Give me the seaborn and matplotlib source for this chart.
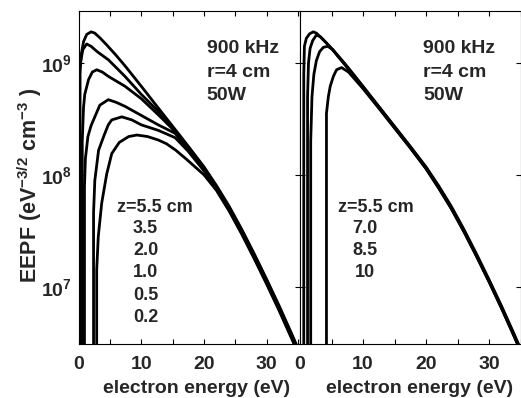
import matplotlib
matplotlib.use("Agg")
import matplotlib.pyplot as plt
from matplotlib.ticker import MultipleLocator, NullLocator, LogLocator
import seaborn as sns
import pandas as pd

# ---- EEPF data, 900 kHz, r = 4 cm, 50 W ----
# Left panel: z = 5.5, 3.5, 2.0, 1.0, 0.5, 0.2 cm
left_z = ["5.5", "3.5", "2.0", "1.0", "0.5", "0.2"]

e_z55 = [0.25, 0.25, 0.45, 0.8, 1.3, 2.0, 2.6, 3.5, 4.5, 6, 7.5, 10, 12.5, 15, 17.5, 20, 22, 24, 26, 28, 30, 32, 34, 35.2]
f_z55 = [2.0e6, 8.5e8, 1.2e9, 1.55e9, 1.8e9, 1.9e9, 1.85e9, 1.66e9, 1.45e9, 1.17e9, 9.3e8, 6.2e8, 4.1e8, 2.72e8,
         1.8e8, 1.18e8, 8.0e7, 5.25e7, 3.27e7, 1.97e7, 1.16e7, 6.7e6, 3.76e6, 2.63e6]

e_z35 = [0.05, 0.05, 0.3, 0.7, 1.3, 2.0, 3.0, 4.75, 7.4, 10, 12.7, 15, 17.5, 20, 22, 24, 26, 28, 30, 32, 34, 35.2]
f_z35 = [2.0e6, 6.3e8, 1.0e9, 1.32e9, 1.48e9, 1.41e9, 1.26e9, 1.07e9, 7.6e8, 5.25e8, 3.7e8, 2.63e8, 1.76e8, 1.15e8,
         7.8e7, 5.12e7, 3.19e7, 1.92e7, 1.13e7, 6.53e6, 3.67e6, 2.56e6]

e_z20 = [0.6, 0.6, 0.8, 1.0, 1.6, 2.2, 2.9, 3.8, 4.75, 7.4, 10, 12.7, 15, 17.5, 20, 22, 24, 26, 28, 30, 32, 34, 35.2]
f_z20 = [2.0e6, 2.0e8, 4.0e8, 5.25e8, 7.1e8, 8.3e8, 8.7e8, 8.3e8, 7.6e8, 6.2e8, 4.8e8, 3.45e8, 2.57e8, 1.72e8,
         1.135e8, 7.64e7, 5.01e7, 3.12e7, 1.88e7, 1.11e7, 6.4e6, 3.59e6, 2.51e6]

e_z10 = [0.95, 0.95, 1.1, 1.5, 2.0, 2.6, 3.4, 4.75, 6, 7.4, 10, 12.7, 15.4, 17.5, 20, 22, 24, 26, 28, 30, 32, 34, 35.2]
f_z10 = [2.0e6, 7.9e7, 1.4e8, 2.2e8, 2.75e8, 3.3e8, 4.2e8, 4.7e8, 4.45e8, 4.1e8, 3.4e8, 2.8e8, 2.35e8, 1.68e8,
         1.11e8, 7.52e7, 4.94e7, 3.07e7, 1.85e7, 1.09e7, 6.3e6, 3.53e6, 2.47e6]

e_z05 = [2.4, 2.4, 2.6, 3.2, 4.2, 4.75, 5.3, 6.9, 8.5, 10, 12.7, 15.4, 17.5, 20, 22, 24, 26, 28, 30, 32, 34, 35.2]
f_z05 = [2.0e6, 4.6e7, 8.9e7, 1.66e8, 2.35e8, 2.8e8, 3.1e8, 3.3e8, 3.1e8, 2.8e8, 2.5e8, 2.15e8, 1.62e8, 1.085e8,
         7.4e7, 4.86e7, 3.02e7, 1.82e7, 1.07e7, 6.2e6, 3.48e6, 2.43e6]

e_z02 = [2.9, 2.9, 3.15, 3.7, 4.5, 5.3, 6.5, 8, 9.3, 11, 12.7, 14, 15.5, 17.2, 20, 22, 24, 26, 28, 30, 32, 34, 35.2]
f_z02 = [2.0e6, 1.41e7, 2.8e7, 5.6e7, 1.02e8, 1.55e8, 1.95e8, 2.2e8, 2.27e8, 2.2e8, 2.05e8, 1.9e8, 1.66e8, 1.38e8,
         1.0e8, 7.24e7, 4.75e7, 2.96e7, 1.78e7, 1.05e7, 6.06e6, 3.4e6, 2.38e6]

# Right panel: z = 5.5, 7.0, 8.5, 10 cm
right_z = ["5.5", "7.0", "8.5", "10"]

e_r55 = [0.6, 0.6, 0.7, 1.0, 1.5, 2.1, 2.6, 3.5, 4.5, 6, 7.5, 10, 12.5, 15, 17.5, 20, 22, 24, 26, 28, 30, 32, 34, 35.2]
f_r55 = [2.0e6, 7.9e8, 1.41e9, 1.66e9, 1.82e9, 1.9e9, 1.85e9, 1.66e9, 1.45e9, 1.17e9, 9.3e8, 6.2e8, 4.1e8, 2.72e8,
         1.8e8, 1.18e8, 8.0e7, 5.25e7, 3.27e7, 1.97e7, 1.16e7, 6.7e6, 3.76e6, 2.63e6]

e_r70 = [1.2, 1.2, 1.35, 1.6, 2.0, 2.6, 3.2, 4.0, 5.0, 6, 7.5, 10, 12.5, 15, 17.5, 20, 22, 24, 26, 28, 30, 32, 34, 35.2]
f_r70 = [2.0e6, 5.0e8, 1.0e9, 1.35e9, 1.58e9, 1.78e9, 1.72e9, 1.55e9, 1.35e9, 1.16e9, 9.2e8, 6.1e8, 4.05e8, 2.68e8,
         1.77e8, 1.16e8, 7.8e7, 5.12e7, 3.19e7, 1.92e7, 1.13e7, 6.53e6, 3.67e6, 2.56e6]

e_r85 = [1.7, 1.7, 1.9, 2.2, 2.6, 3.1, 3.7, 4.4, 5.2, 6, 7.5, 10, 12.5, 15, 17.5, 20, 22, 24, 26, 28, 30, 32, 34, 35.2]
f_r85 = [2.0e6, 2.0e8, 5.0e8, 7.9e8, 1.05e9, 1.26e9, 1.38e9, 1.41e9, 1.32e9, 1.15e9, 9.1e8, 6.0e8, 4.0e8, 2.64e8,
         1.75e8, 1.14e8, 7.64e7, 5.01e7, 3.12e7, 1.88e7, 1.11e7, 6.4e6, 3.59e6, 2.51e6]

e_r10 = [4.2, 4.2, 4.5, 4.8, 5.3, 5.8, 6.6, 7.7, 10, 12.5, 15, 17.5, 20, 22, 24, 26, 28, 30, 32, 34, 35.2]
f_r10 = [2.0e6, 3.55e8, 5.0e8, 6.2e8, 7.6e8, 8.7e8, 9.1e8, 8.3e8, 5.9e8, 3.95e8, 2.62e8, 1.74e8, 1.135e8, 7.64e7,
         5.01e7, 3.12e7, 1.88e7, 1.11e7, 6.4e6, 3.59e6, 2.51e6]

x_ticklabels = ["0", "10", "20", "30"]
info_lines = ["900 kHz", "r=4 cm", "50W"]


def frame(zs, energies, eepfs):
    parts = [pd.DataFrame({"z": z, "energy": e, "eepf": f}) for z, e, f in zip(zs, energies, eepfs)]
    return pd.concat(parts, ignore_index=True)


left_df = frame(left_z, [e_z55, e_z35, e_z20, e_z10, e_z05, e_z02],
                [f_z55, f_z35, f_z20, f_z10, f_z05, f_z02])
right_df = frame(right_z, [e_r55, e_r70, e_r85, e_r10],
                 [f_r55, f_r70, f_r85, f_r10])

sns.set_theme(style="ticks")
plt.rcParams["font.family"] = ["Liberation Sans", "DejaVu Sans"]
plt.rcParams["font.weight"] = "bold"
plt.rcParams["axes.labelweight"] = "bold"
plt.rcParams["mathtext.fontset"] = "custom"
plt.rcParams["mathtext.rm"] = "Liberation Sans:bold"
plt.rcParams["mathtext.it"] = "Liberation Sans:italic:bold"
plt.rcParams["mathtext.bf"] = "Liberation Sans:bold"

W, H = 521, 398
fig = plt.figure(figsize=(W / 100, H / 100), dpi=100)
ax_l = fig.add_axes([78.5 / W, 1 - 344 / H, 221.5 / W, 333 / H])
ax_r = fig.add_axes([300 / W, 1 - 344 / H, 220.5 / W, 333 / H])

for ax, df, xmax in ((ax_l, left_df, 35.3), (ax_r, right_df, 35.0)):
    n = df["z"].nunique()
    sns.lineplot(data=df, x="energy", y="eepf", hue="z", palette=["black"] * n,
                 estimator=None, sort=False, legend=False, linewidth=2.0, ax=ax)
    ax.set_yscale("log")
    ax.set_xlim(0, xmax)
    ax.set_ylim(10 ** 6.4875, 10 ** 9.465)
    ax.xaxis.set_major_locator(MultipleLocator(10))
    ax.xaxis.set_minor_locator(MultipleLocator(5))
    ax.yaxis.set_major_locator(LogLocator(base=10, numticks=10))
    ax.yaxis.set_minor_locator(NullLocator())
    ax.tick_params(which="both", direction="in", top=True, right=True,
                   length=3.6, width=0.8, color="black", labelsize=14)
    ax.tick_params(axis="x", pad=8.5)
    ax.tick_params(axis="y", pad=4.5)
    for sp in ax.spines.values():
        sp.set_linewidth(0.8)
        sp.set_color("black")
    ax.set_xticks([0, 10, 20, 30])
    ax.set_xticklabels(x_ticklabels)
    ax.set_xlabel("electron energy (eV)", fontsize=14, fontweight="bold", va="baseline")
    ax.set_ylabel("")

ax_l.xaxis.set_label_coords(0.535, -0.146)
ax_r.xaxis.set_label_coords(0.54, -0.146)
ax_r.tick_params(axis="y", labelleft=False)

ax_l.set_ylabel(r"EEPF (eV$^{\mathregular{-3/2}}$ cm$^{\mathregular{-3}}$ )",
                fontsize=15.5, fontweight="bold", va="center")
ax_l.yaxis.set_label_coords(-0.222, 0.477)

# condition labels in the upper right of each panel
for ax, x0 in ((ax_l, 0.579), (ax_r, 0.559)):
    for line, y0 in zip(info_lines, (0.873, 0.803, 0.733)):
        ax.text(x0, y0, line, transform=ax.transAxes, fontsize=14, va="baseline", ha="left")

# probe positions
rows = (0.397, 0.332, 0.267, 0.201, 0.132, 0.067)
ax_l.text(0.172, rows[0], "z=" + left_z[0] + " cm", transform=ax_l.transAxes, fontsize=13, va="baseline")
for z, y0 in zip(left_z[1:], rows[1:]):
    ax_l.text(0.3025, y0, z, transform=ax_l.transAxes, fontsize=13, va="baseline", ha="center")
ax_r.text(0.174, rows[0], "z=" + right_z[0] + " cm", transform=ax_r.transAxes, fontsize=13, va="baseline")
for z, y0 in zip(right_z[1:], rows[1:]):
    ax_r.text(0.296, y0, z, transform=ax_r.transAxes, fontsize=13, va="baseline", ha="center")

fig.savefig("out.png", dpi=100)
